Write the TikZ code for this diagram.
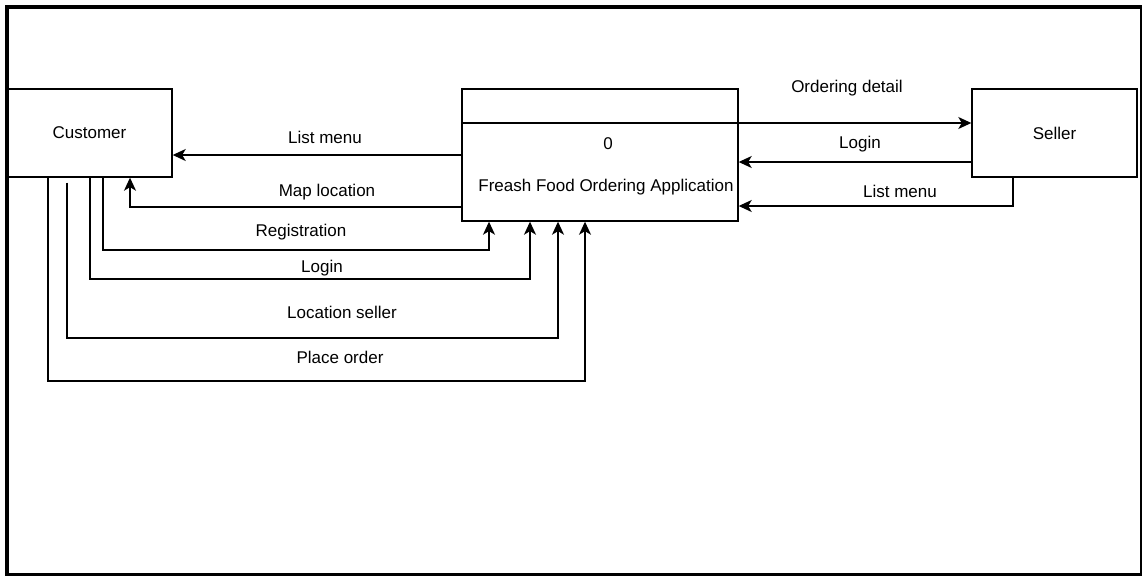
\documentclass[tikz,border=0pt]{standalone}
\usepackage{fontspec}
\setmainfont{Liberation Sans}
\usetikzlibrary{arrows.meta}
\begin{document}
\begin{tikzpicture}[x=1pt,y=-1pt,
  box/.style={draw, line width=1.4pt, minimum width=165pt, minimum height=88pt, inner sep=0pt, font=\fontsize{17}{20}\selectfont},
  lbl/.style={font=\fontsize{17}{20}\selectfont, inner sep=0pt},
  flow/.style={line width=1.4pt, -{Stealth[length=13pt,width=12pt,inset=3.5pt]}},
  line/.style={line width=1.4pt}]
\useasboundingbox (0,0) rectangle (1144,576);
% outer frame
\draw[line width=2.5pt] (6,6) rectangle (1141,574.5);
\draw[line width=4pt] (7,576) -- (7,7) -- (1142,7);

% external entities and the process
\node[box] (cust) at (89.5,133) {Customer};
\node[box] (seller) at (1054.5,133) {Seller};
\node[draw, line width=1.4pt, minimum width=276pt, minimum height=132pt, inner sep=0pt] (proc) at (600,155) {};
\node[lbl] (pnum) at (608,144) {0};
\node[lbl] (pname) at (606,187) {Freash Food Ordering Application};

% reference heights and columns
\coordinate (yOD) at (0,123);
\coordinate (yLM) at (0,155);
\coordinate (ySL) at (0,162);
\coordinate (ySM) at (1013,206);
\coordinate (yML) at (130,207);
\coordinate (yRG) at (489,250);
\coordinate (xRG) at (103,0);
\coordinate (yLG) at (530,279);
\coordinate (xLG) at (90,0);
\coordinate (yLS) at (558,338);
\coordinate (xLS) at (67,0);
\coordinate (yPO) at (585,381);
\coordinate (xPO) at (48,0);

% process header line, continued as the flow to the seller
\draw[line] (proc.west |- yOD) -- (proc.east |- yOD);
\draw[flow] (proc.east |- yOD) -- (seller.west |- yOD);
\node[lbl] (tOD) at (847,88) {Ordering detail};

% seller to process
\draw[flow] (seller.west |- ySL) -- (proc.east |- ySL);
\node[lbl] (tSL) at (860,144) {Login};
\draw[flow] (seller.south -| ySM) -- (ySM) -- (proc.east |- ySM);
\node[lbl] (tSM) at (900,191) {List menu};

% process to customer
\draw[flow] (proc.west |- yLM) -- (cust.east |- yLM);
\node[lbl] (tLM) at (325,137) {List menu};
\draw[flow] (proc.west |- yML) -- (yML) -- (cust.south -| yML);
\node[lbl] (tML) at (327,192) {Map location};

% customer to process
\draw[flow] (cust.south -| xRG) |- (yRG) -- (proc.south -| yRG);
\node[lbl] (tRG) at (301,232) {Registration};
\draw[flow] (cust.south -| xLG) |- (yLG) -- (proc.south -| yLG);
\node[lbl] (tLG) at (322,268) {Login};
\draw[flow] ([yshift=-5pt]cust.south -| xLS) |- (yLS) -- (proc.south -| yLS);
\node[lbl] (tLS) at (342,312) {Location seller};
\draw[flow] (cust.south -| xPO) |- (yPO) -- (proc.south -| yPO);
\node[lbl] (tPO) at (340,357) {Place order};
\end{tikzpicture}
\end{document}
